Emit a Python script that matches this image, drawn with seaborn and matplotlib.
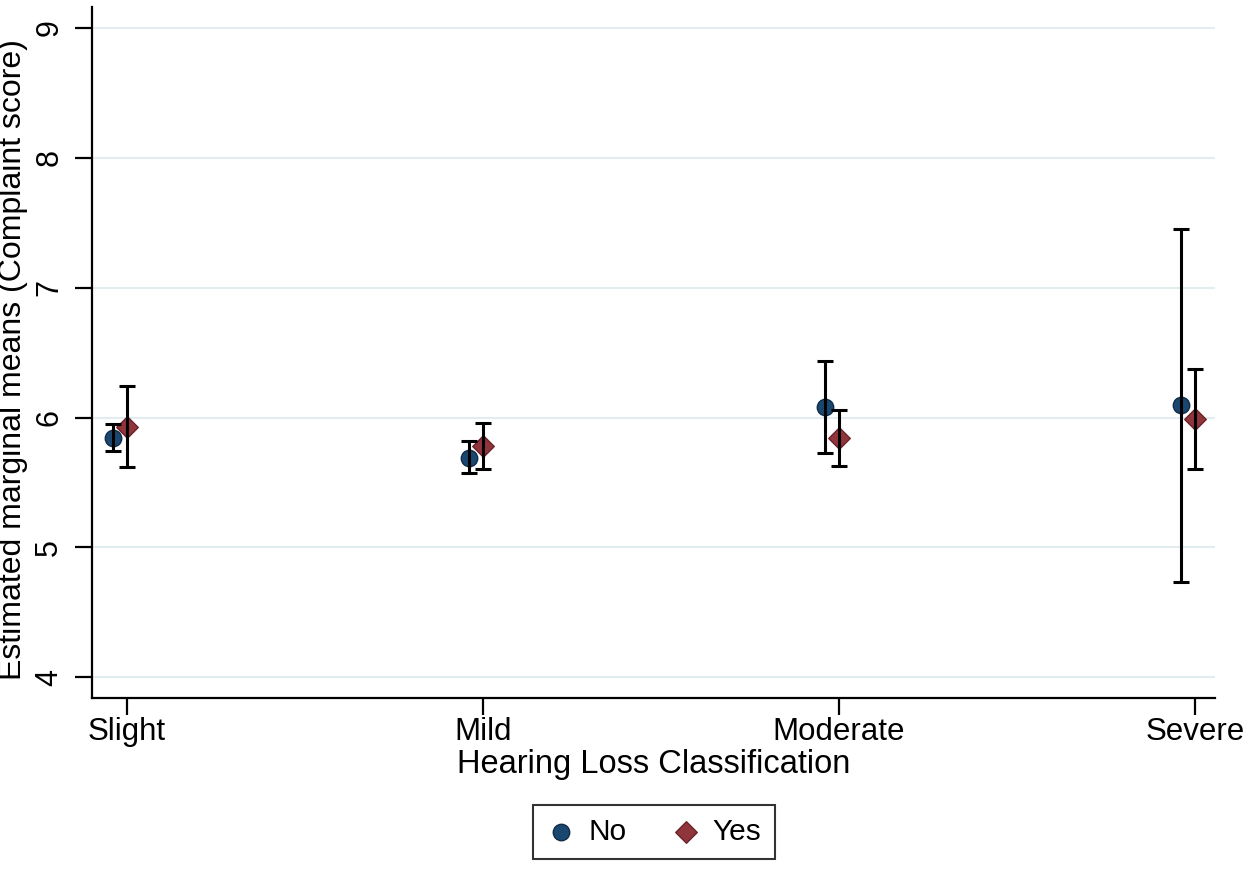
import numpy as np
import pandas as pd
import matplotlib
matplotlib.use("Agg")
import matplotlib.pyplot as plt
import seaborn as sns

# values
categories = ["Slight", "Mild", "Moderate", "Severe"]
groups = ["No", "Yes"]

no_mean = [5.84, 5.69, 6.08, 6.095]
no_lo = [5.74, 5.575, 5.727, 4.736]
no_hi = [5.95, 5.82, 6.435, 7.456]

yes_mean = [5.93, 5.78, 5.843, 5.987]
yes_lo = [5.62, 5.60, 5.625, 5.60]
yes_hi = [6.245, 5.96, 6.057, 6.373]

colors = {"No": "#1a476f", "Yes": "#90353b"}
edges = {"No": "#0e2c47", "Yes": "#6a2226"}
markers = {"No": "o", "Yes": "D"}
offsets = {"No": -0.04, "Yes": 0.0}

rows = []
for g, m, lo, hi in [("No", no_mean, no_lo, no_hi), ("Yes", yes_mean, yes_lo, yes_hi)]:
    for i, c in enumerate(categories):
        rows.append({"cat": c, "idx": i, "group": g, "mean": m[i], "lo": lo[i], "hi": hi[i]})
df = pd.DataFrame(rows)
df["x"] = df["idx"] + df["group"].map(offsets)

sns.set_theme(style="white")
plt.rcParams["font.family"] = ["Liberation Sans", "DejaVu Sans"]
plt.rcParams["text.color"] = "black"
plt.rcParams["axes.labelcolor"] = "black"
plt.rcParams["xtick.color"] = "black"
plt.rcParams["ytick.color"] = "black"

fig = plt.figure(figsize=(12.48, 8.73), dpi=100)
ax = fig.add_axes([92 / 1248, 1 - 698 / 873, (1215 - 92) / 1248, (698 - 7) / 873])

for g in groups:
    d = df[df["group"] == g]
    sns.scatterplot(
        data=d, x="x", y="mean", ax=ax,
        marker=markers[g], color=colors[g], edgecolor=edges[g],
        linewidth=1.0, s=140 if g == "No" else 120, zorder=2, label=g,
    )
    ax.errorbar(
        d["x"], d["mean"],
        yerr=[d["mean"] - d["lo"], d["hi"] - d["mean"]],
        fmt="none", ecolor="black", elinewidth=2.2, capsize=5.5,
        capthick=2.2, zorder=3,
    )

ax.set_xlim(-0.098, 3.056)
ax.set_ylim(3.84, 9.162)
ax.set_yticks([4, 5, 6, 7, 8, 9])
ax.set_xticks(range(len(categories)))
ax.set_xticklabels(categories)

ax.yaxis.grid(True, color="#e3edef", linewidth=1.5)
ax.set_axisbelow(True)
for side in ["top", "right"]:
    ax.spines[side].set_visible(False)
for side in ["left", "bottom"]:
    ax.spines[side].set_color("black")
    ax.spines[side].set_linewidth(1.6)

ax.tick_params(axis="both", which="major", direction="out", length=12,
               width=1.6, color="black", labelcolor="black", bottom=True, left=True)
ax.tick_params(axis="x", pad=2, labelsize=22.5)
ax.tick_params(axis="y", pad=8, labelsize=22)
for lab in ax.get_yticklabels():
    lab.set_rotation(90)
    lab.set_va("center")

ax.set_xlabel("Hearing Loss Classification", fontsize=23.5, labelpad=1)
ax.set_ylabel("Estimated marginal means (Complaint score)", fontsize=23)
ax.yaxis.set_label_coords(-0.057, 0.49)

ax.legend_.remove()
h, l = ax.get_legend_handles_labels()
leg = fig.legend(
    h, l, loc="center", bbox_to_anchor=(654 / 1248, 1 - 832 / 873), ncol=2,
    fontsize=21.5, frameon=True, fancybox=False, edgecolor="black",
    handletextpad=0.4, columnspacing=1.5, borderpad=0.45, handlelength=1.0,
)
leg.get_frame().set_linewidth(1.5)

fig.savefig("out.png", dpi=100)
